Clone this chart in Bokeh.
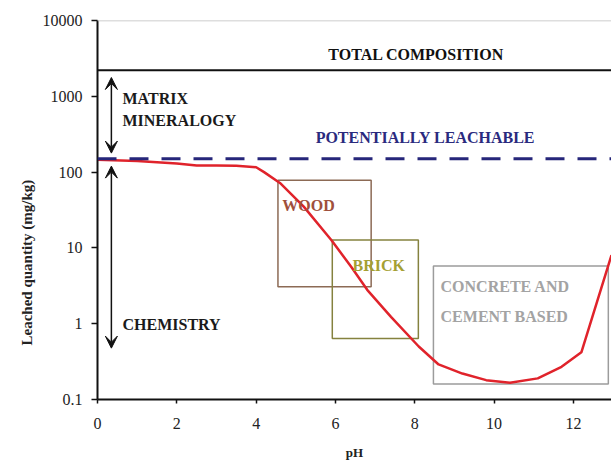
import math
from bokeh.plotting import figure
from bokeh.models import FixedTicker, CustomJSTickFormatter, Span, Arrow, VeeHead, Title
from bokeh.core.properties import value
from bokeh.embed import file_html
from bokeh.resources import INLINE

# ---- data ----
ph = [0, 1, 2, 2.5, 3, 3.5, 4, 4.2, 4.6, 5.2, 5.9, 6.4, 6.8, 7.4, 8.1, 8.6,
      9.2, 9.8, 10.4, 11.1, 11.7, 12.2, 12.96]
leached = [145, 140, 130, 122, 122, 121, 116, 100, 72, 35, 12.6, 5.6, 2.8, 1.23,
           0.5, 0.29, 0.22, 0.18, 0.166, 0.19, 0.27, 0.42, 8]

total_composition = 2200
potentially_leachable = 150

box_names = ["WOOD", "BRICK", "CONCRETE AND CEMENT BASED"]
box_ph_min = [4.55, 5.92, 8.47]
box_ph_max = [6.9, 8.09, 12.88]
box_q_min = [3.07, 0.64, 0.16]
box_q_max = [78, 12.7, 5.76]
box_colors = ["#8C6A55", "#85823F", "#9C9C9C"]

x_ticks = [0, 2, 4, 6, 8, 10, 12]
y_ticks = [0.1, 1, 10, 100, 1000, 10000]

# annotation texts (left x in pH, baseline y in mg/kg)
note_text = ["TOTAL COMPOSITION", "MATRIX", "MINERALOGY", "POTENTIALLY LEACHABLE",
             "WOOD", "BRICK", "CONCRETE AND", "CEMENT BASED", "CHEMISTRY"]
note_x = [5.82, 0.63, 0.63, 5.5, 4.66, 6.43, 8.65, 8.65, 0.63]
note_y = [3560, 935, 485, 289, 36.7, 5.93, 3.13, 1.26, 0.99]
note_color = ["#111111", "#1a1a1a", "#1a1a1a", "#2A2A7E", "#A0503C", "#A5A032",
              "#A3A3A3", "#A3A3A3", "#1a1a1a"]

# double arrows (x in pH, y range in mg/kg)
arrow_x = [0.35, 0.35]
arrow_y0 = [1770, 120]
arrow_y1 = [178, 0.476]

p = figure(x_range=(0, 12.96), y_range=(0.1, 10000), y_axis_type="log",
           frame_width=514, frame_height=379,
           min_border_left=97, min_border_right=0, min_border_top=20, min_border_bottom=50,
           output_backend="svg", toolbar_location=None)
p.outline_line_color = None
p.xgrid.visible = False
p.ygrid.visible = False
p.background_fill_color = "white"

# axes
p.xaxis.ticker = FixedTicker(ticks=x_ticks, minor_ticks=[])
p.yaxis.ticker = FixedTicker(ticks=y_ticks, minor_ticks=[])
p.yaxis.formatter = CustomJSTickFormatter(code="return tick < 1 ? tick.toFixed(1) : tick.toFixed(0);")
for ax in (p.xaxis, p.yaxis):
    ax.axis_line_color = "#111111"
    ax.axis_line_width = 2
    ax.major_tick_line_color = "#111111"
    ax.major_tick_line_width = 1.5
    ax.major_tick_in = 0
    ax.major_label_text_font = "Liberation Serif"
    ax.major_label_text_font_size = "16px"
    ax.major_label_text_color = "#222222"
p.yaxis.major_tick_out = 6
p.yaxis.major_label_standoff = 9
p.xaxis.major_tick_out = 4
p.xaxis.major_label_standoff = 14
p.xaxis.axis_label = "pH"
p.xaxis.axis_label_text_font = "Liberation Serif"
p.xaxis.axis_label_text_font_style = "bold"
p.xaxis.axis_label_text_font_size = "13px"
p.xaxis.axis_label_text_color = "#222222"
p.xaxis.axis_label_standoff = 13

p.add_layout(Title(text="Leached quantity (mg/kg)", align="left", offset=54,
                   text_font="Liberation Serif", text_font_style="bold",
                   text_font_size="15px", text_color="#222222", standoff=10), "left")

# top border and reference levels
p.add_layout(Span(location=10000, dimension="width", line_color="#BDBDBD", line_width=1.5))
p.add_layout(Span(location=total_composition, dimension="width", line_color="#111111", line_width=2))
p.add_layout(Span(location=potentially_leachable, dimension="width", line_color="#26267A",
                  line_width=3, line_dash="19 13"))

# material boxes
p.quad(left=box_ph_min, right=box_ph_max, bottom=box_q_min, top=box_q_max,
       fill_color=None, line_color=box_colors, line_width=1.5)

# leaching curve
p.line(ph, leached, line_color="#E0232B", line_width=2.5)

# arrows
for xa, ya, yb in zip(arrow_x, arrow_y0, arrow_y1):
    p.add_layout(Arrow(x_start=xa, y_start=ya, x_end=xa, y_end=yb, line_width=1.5,
                       line_color="#111111",
                       start=VeeHead(size=12, fill_color="#111111", line_color="#111111"),
                       end=VeeHead(size=12, fill_color="#111111", line_color="#111111")))

# texts
p.text(x=note_x, y=note_y, text=note_text, text_color=note_color,
       text_font=value("Liberation Serif"), text_font_style="bold",
       text_font_size="16px", text_align="left", text_baseline="alphabetic")

open("out.html", "w").write(file_html(p, INLINE))
